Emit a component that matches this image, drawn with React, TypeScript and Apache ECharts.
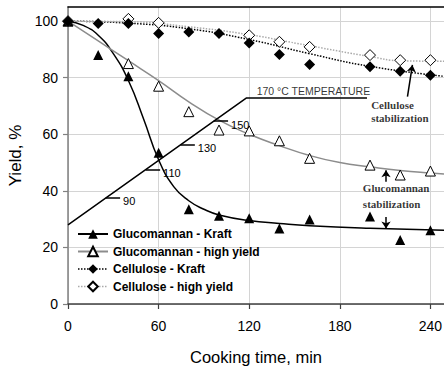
import React, { useEffect, useRef } from 'react';
import * as echarts from 'echarts';

// Measured yields (%) against cooking time (min)
const timeKraft = [0, 20, 40, 60, 80, 100, 120, 140, 160, 200, 220, 240];
const glucoKraft = [100, 88, 80.5, 53.5, 33.5, 31.2, 30.3, 26.7, 29.9, 30.9, 22.6, 26.1];
const celluKraft = [100, 99.2, 99.2, 95.6, 96.2, 95.6, 92.3, 88.2, 84.7, 83.9, 82.3, 80.9];

const timeGlucoHigh = [0, 40, 60, 80, 100, 120, 140, 160, 200, 220, 240];
const glucoHigh = [100, 85, 77, 68, 61.5, 61.2, 57.7, 51.5, 49.1, 45.6, 47];

const timeCelluHigh = [0, 40, 60, 120, 140, 160, 200, 220, 240];
const celluHigh = [100, 100.8, 99.4, 95, 92.7, 90.9, 88, 86.2, 86.2];

// Fitted trend curves
const glucoKraftFitT = [0, 10, 20, 30, 40, 50, 60, 70, 80, 90, 100, 120, 140, 160, 200, 249];
const glucoKraftFitY = [100, 98.5, 95, 88.5, 79, 65.5, 51, 41.5, 36.5, 33.5, 31.5, 29.5, 28.5, 27.7, 26.8, 26.1];
const glucoHighFitT = [0, 20, 40, 60, 80, 100, 120, 140, 160, 180, 200, 220, 240, 249];
const glucoHighFitY = [100, 93, 86, 79, 71.5, 65, 60, 56, 52.5, 50, 48.5, 47.2, 46.3, 46];
const celluKraftFitT = [0, 40, 80, 120, 160, 200, 249];
const celluKraftFitY = [100, 99.3, 97.3, 93.5, 88.5, 84, 80.5];
const celluHighFitT = [0, 40, 80, 120, 160, 200, 220, 249];
const celluHighFitY = [100, 99.8, 98, 95.2, 91.3, 87.5, 86, 85.8];

// Temperature profile overlay (drawn on the yield scale)
const tempLineT = [0, 118, 198];
const tempLineY = [28, 72.8, 72.8];
const tempMarkT = [25, 51.5, 74.5, 96.5];
const tempMarkLabels = ['90', '110', '130', '150'];
const tempTopLabel = '170 °C TEMPERATURE';

const xTicks = [0, 60, 120, 180, 240];
const yTicks = [0, 20, 40, 60, 80, 100];

const seriesNames = [
  'Glucomannan - Kraft',
  'Glucomannan - high yield',
  'Cellulose - Kraft',
  'Cellulose - high yield',
];

const SANS = 'Liberation Sans';
const SERIF = 'Liberation Serif';

const pairs = (xs: number[], ys: number[]) => xs.map((x, i) => [x, ys[i]]);

// y of the rising part of the temperature line at time t
const tempAt = (t: number) =>
  tempLineY[0] + ((tempLineY[1] - tempLineY[0]) * (t - tempLineT[0])) / (tempLineT[1] - tempLineT[0]);

export default function App() {
  const ref = useRef<HTMLDivElement>(null);

  useEffect(() => {
    const chart = echarts.init(ref.current!, null, { renderer: 'svg' });
    const tickLen = 9.5;

    const fit = (name: string, xs: number[], ys: number[], color: string, type: string) => ({
      type: 'line',
      name,
      data: pairs(xs, ys),
      symbol: 'none',
      smooth: 0.5,
      silent: true,
      lineStyle: { color, width: 1.5, type },
      z: 2,
    });

    const points = (name: string, xs: number[], ys: number[], symbol: string, size: number, open: boolean) => ({
      type: 'line',
      name,
      data: pairs(xs, ys),
      symbol,
      symbolSize: size,
      showSymbol: true,
      silent: true,
      lineStyle: { opacity: 0 },
      itemStyle: open
        ? { color: '#fff', borderColor: '#000', borderWidth: 1 }
        : { color: '#000', borderColor: '#000', borderWidth: 0 },
      z: 5,
    });

    const textLabel = {
      show: true,
      color: '#000',
      textBorderWidth: 0,
      fontFamily: SANS,
    };

    const option: any = {
      animation: false,
      textStyle: { fontFamily: SANS },
      grid: { left: 68, right: 0, top: 7, bottom: 63, containLabel: false, outerBoundsMode: 'none' },
      legend: {
        orient: 'vertical',
        left: 72,
        top: 223,
        itemWidth: 30,
        itemHeight: 12,
        itemGap: 5.5,
        selectedMode: false,
        textStyle: { fontFamily: SANS, fontWeight: 'bold', fontSize: 12, color: '#000' },
        data: [
          { name: seriesNames[0], lineStyle: { color: '#000', width: 2, type: 'solid', opacity: 1 } },
          { name: seriesNames[1], lineStyle: { color: '#8c8c8c', width: 2, type: 'solid', opacity: 1 } },
          { name: seriesNames[2], lineStyle: { color: '#000', width: 1.5, type: 'dotted', opacity: 1 } },
          { name: seriesNames[3], lineStyle: { color: '#aaa', width: 1.5, type: 'dotted', opacity: 1 } },
        ],
      },
      xAxis: [
        {
          type: 'value',
          min: 0,
          max: 249,
          interval: 60,
          name: 'Cooking time, min',
          nameLocation: 'middle',
          nameGap: 44,
          nameTextStyle: { fontSize: 16.5, color: '#000', fontFamily: SANS },
          axisLine: { show: true, onZero: false, lineStyle: { color: '#404040', width: 1.5 } },
          axisTick: { show: true, length: 5, customValues: xTicks, lineStyle: { color: '#404040', width: 1.2 } },
          axisLabel: { fontSize: 14, color: '#000', margin: 15, customValues: xTicks },
          splitLine: { show: true, lineStyle: { color: '#d4d4d4', width: 1 } },
        },
        {
          type: 'value',
          position: 'top',
          min: 0,
          max: 249,
          axisLine: { show: true, onZero: false, lineStyle: { color: '#000', width: 1.5 } },
          axisTick: { show: false },
          axisLabel: { show: false },
          splitLine: { show: false },
        },
      ],
      yAxis: {
        type: 'value',
        min: 0,
        max: 105,
        interval: 20,
        name: 'Yield, %',
        nameLocation: 'middle',
        nameGap: 39,
        nameTextStyle: { fontSize: 17, color: '#000', fontFamily: SANS },
        axisLine: { show: true, onZero: false, lineStyle: { color: '#808080', width: 1.5 } },
        axisTick: { show: true, length: 5, customValues: yTicks, lineStyle: { color: '#808080', width: 1.2 } },
        axisLabel: { fontSize: 14, color: '#000', margin: 10, customValues: yTicks },
        splitLine: { show: true, lineStyle: { color: '#d4d4d4', width: 1 } },
      },
      series: [
        fit('gluco-kraft-fit', glucoKraftFitT, glucoKraftFitY, '#000', 'solid'),
        fit('gluco-high-fit', glucoHighFitT, glucoHighFitY, '#8c8c8c', 'solid'),
        fit('cellu-kraft-fit', celluKraftFitT, celluKraftFitY, '#000', 'dotted'),
        fit('cellu-high-fit', celluHighFitT, celluHighFitY, '#aaa', 'dotted'),
        {
          type: 'line',
          name: 'temperature',
          data: pairs(tempLineT, tempLineY),
          symbol: 'none',
          silent: true,
          lineStyle: { color: '#000', width: 1.5 },
          z: 3,
          markLine: {
            silent: true,
            symbol: ['none', 'none'],
            lineStyle: { color: '#000', width: 1.5, type: 'solid' },
            label: {
              show: true,
              position: 'end',
              distance: 3,
              formatter: '\n{b}',
              lineHeight: 7,
              color: '#000',
              fontSize: 11,
              fontFamily: SANS,
            },
            data: tempMarkT.map((t, i) => [
              { name: tempMarkLabels[i], coord: [t, tempAt(t)] },
              { coord: [t + tickLen, tempAt(t)] },
            ]),
          },
        },
        points(seriesNames[1], timeGlucoHigh, glucoHigh, 'triangle', 10, true),
        points(seriesNames[0], timeKraft, glucoKraft, 'triangle', 10, false),
        points(seriesNames[3], timeCelluHigh, celluHigh, 'diamond', 11, true),
        points(seriesNames[2], timeKraft, celluKraft, 'diamond', 11, false),
        {
          type: 'scatter',
          name: 'annotations',
          silent: true,
          symbolSize: 1,
          itemStyle: { color: 'transparent' },
          label: { ...textLabel, show: false },
          z: 6,
          data: [
            {
              value: [162.5, tempLineY[2]],
              label: {
                ...textLabel,
                formatter: tempTopLabel,
                position: 'top',
                distance: 1,
                fontSize: 10.5,
              },
            },
            {
              value: [201.1, 72.7],
              label: {
                ...textLabel,
                formatter: 'Cellulose\nstabilization',
                position: [0, 0],
                align: 'left',
                verticalAlign: 'top',
                fontSize: 11,
                lineHeight: 13.3,
                fontWeight: 'bold',
                fontFamily: SERIF,
              },
            },
            {
              value: [195.6, 43.5],
              label: {
                ...textLabel,
                formatter: 'Glucomannan\nstabilization',
                position: [0, 0],
                align: 'left',
                verticalAlign: 'top',
                fontSize: 11,
                lineHeight: 16,
                fontWeight: 'bold',
                fontFamily: SERIF,
              },
            },
          ],
          markLine: {
            silent: true,
            symbol: ['none', 'arrow'],
            symbolSize: 7,
            label: { show: false },
            lineStyle: { color: '#000', width: 1.5, type: 'solid' },
            data: [
              [{ coord: [224.8, 73.3] }, { coord: [228.1, 84.5] }],
              [{ coord: [210.6, 43.2] }, { coord: [210.6, 47.3] }],
              [{ coord: [210.6, 30.8] }, { coord: [210.6, 26.7] }],
            ],
          },
        },
      ],
    };

    chart.setOption(option);
    return () => chart.dispose();
  }, []);

  return (
    <div
      ref={ref}
      style={{ position: 'fixed', left: 0, top: 0, width: 444, height: 367, background: '#fff' }}
    />
  );
}
